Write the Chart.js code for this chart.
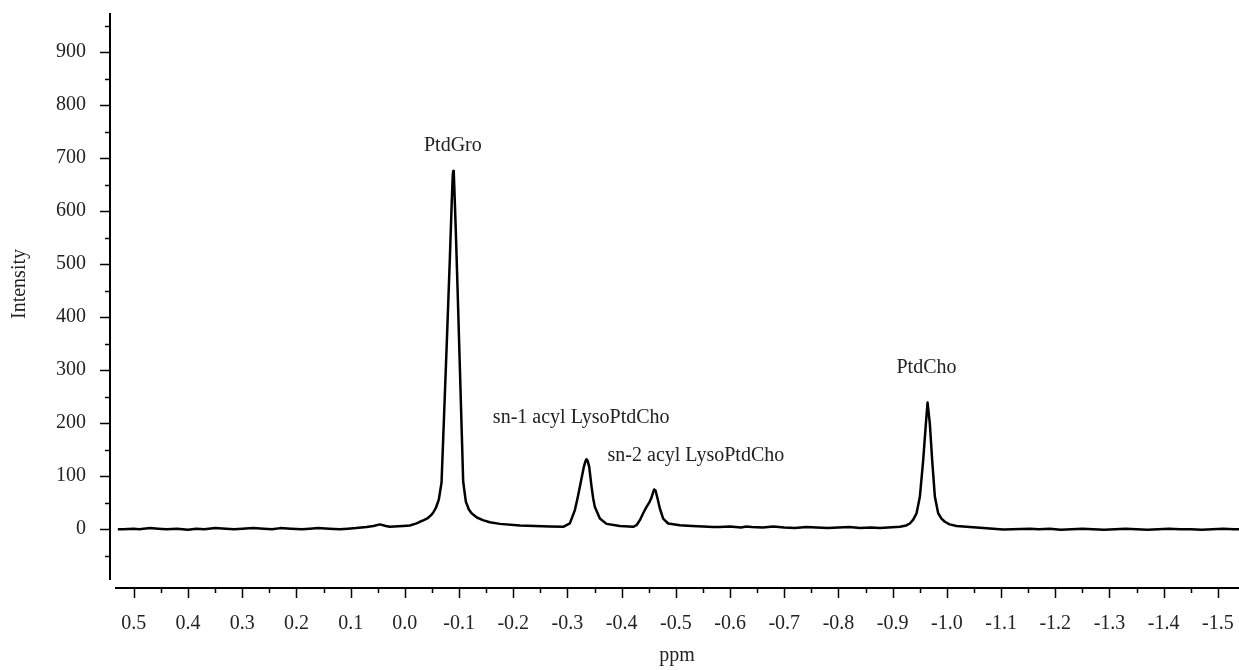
<!DOCTYPE html>
<html><head><meta charset="utf-8">
<script src="https://cdn.jsdelivr.net/npm/chart.js@4.4.1/dist/chart.umd.min.js"></script>
<style>html,body{margin:0;padding:0;background:#fff;} canvas{display:block;}</style>
</head><body>
<canvas id="c" width="1239" height="670"></canvas>
<script>
// Chemical shift (ppm) and intensity
const ppm = [
  0.5295, 0.52, 0.50, 0.49, 0.47, 0.455, 0.44, 0.42, 0.40, 0.385, 0.37, 0.35, 0.33, 0.315, 0.30,
  0.28, 0.26, 0.245, 0.23, 0.21, 0.19, 0.175, 0.16, 0.14, 0.12, 0.105, 0.09, 0.0707, 0.058, 0.0461,
  0.035, 0.0277, 0.0037, -0.0092, -0.0216, -0.0277, -0.035, -0.0424, -0.048, -0.0522, -0.0572,
  -0.0627, -0.0677, -0.072, -0.0775, -0.083, -0.0866, -0.0884, -0.0893, -0.0903, -0.0921, -0.0941,
  -0.0978, -0.1015, -0.1052, -0.1076, -0.1125, -0.1181, -0.1231, -0.1328, -0.1439, -0.1568, -0.1753,
  -0.2122, -0.2675, -0.2921, -0.3044, -0.3137, -0.3185, -0.3229, -0.3303, -0.3335, -0.3352, -0.3372,
  -0.3401, -0.3445, -0.3475, -0.3506, -0.3598, -0.3721, -0.3967, -0.4212, -0.4274, -0.4336, -0.4397,
  -0.4459, -0.4508, -0.4552, -0.4582, -0.46, -0.4625, -0.4662, -0.4705, -0.4766, -0.4858, -0.5074,
  -0.53, -0.55, -0.5689, -0.58, -0.60, -0.62, -0.6304,
  -0.64, -0.66, -0.68, -0.70, -0.72, -0.74, -0.76, -0.78, -0.80, -0.82, -0.84, -0.86, -0.8764,
  -0.9133, -0.925, -0.9317, -0.938, -0.9441, -0.9502, -0.9563, -0.9613, -0.9644, -0.9686, -0.9729,
  -0.9779, -0.984, -0.99, -0.9963, -1.005, -1.0179, -1.0609, -1.1039, -1.1531, -1.17, -1.19, -1.21,
  -1.23, -1.25, -1.27, -1.29, -1.31, -1.33, -1.35, -1.37, -1.39, -1.41, -1.43, -1.45, -1.47, -1.49,
  -1.51, -1.53, -1.539
];
const intensity = [
  0, 0, 1, 0, 2, 1, 0, 1, -1, 1, 0, 2, 1, 0, 1,
  2, 1, 0, 2, 1, 0, 1, 2, 1, 0, 1, 2, 4, 6, 9,
  6, 4.5, 6, 7, 11, 14, 17, 21, 26, 31, 40,
  56, 88, 205, 355, 510, 620, 668, 676, 672, 620, 560,
  435, 305, 175, 90, 52, 37, 30, 22, 17, 13, 10,
  7, 5, 4.5, 11, 36, 58, 80, 118, 129, 132, 129,
  118, 80, 58, 42, 20, 10, 6, 4.5, 7.5, 17, 30,
  42, 50, 60, 70, 75, 73, 58, 39, 20, 10.7, 7.5,
  6, 5, 4, 4, 5, 3, 5,
  4, 3, 5, 3, 2, 4, 3, 2, 3, 4, 2, 3, 2,
  4.4, 7, 10.7, 18, 30, 61, 130, 199, 239, 199, 130,
  61, 30, 20, 14, 9, 6, 2.5, -0.6, 1, 0, 1, -1,
  0, 1, 0, -1, 0, 1, 0, -1, 0, 1, 0, 0, -1, 0,
  1, 0, 0
];
const xTickValues = [0.5, 0.4, 0.3, 0.2, 0.1, 0.0, -0.1, -0.2, -0.3, -0.4, -0.5, -0.6, -0.7, -0.8, -0.9, -1.0, -1.1, -1.2, -1.3, -1.4, -1.5];
const yTickValues = [0, 100, 200, 300, 400, 500, 600, 700, 800, 900];
const xRange = [0.544, -1.539];
const yRange = [-111, 974];
const peakLabels = ['PtdGro', 'sn-1 acyl LysoPtdCho', 'sn-2 acyl LysoPtdCho', 'PtdCho'];
const peakLabelPpm = [-0.0886, -0.1624, -0.374, -0.9624];
const peakLabelIntensity = [714, 201, 128, 295];
const peakLabelAlign = ['center', 'left', 'left', 'center'];
const xTitle = 'ppm';
const yTitle = 'Intensity';

const FONT = "'Liberation Serif', 'Times New Roman', serif";
const TEXT = '#222';

const axesPlugin = {
  id: 'nmrAxes',
  afterDraw(chart) {
    const ctx = chart.ctx, xs = chart.scales.x, ys = chart.scales.y, ca = chart.chartArea;
    ctx.save();
    ctx.strokeStyle = '#000';
    ctx.lineWidth = 2;
    ctx.beginPath();
    ctx.moveTo(ca.left, ca.top);
    ctx.lineTo(ca.left, ca.bottom - 8);
    ctx.stroke();
    ctx.beginPath();
    ctx.moveTo(ca.left + 5, ca.bottom);
    ctx.lineTo(ca.right, ca.bottom);
    ctx.stroke();
    ctx.lineWidth = 1.5;
    const yMinor = [-50].concat(yTickValues.map(v => v + 50));
    yTickValues.forEach(v => {
      const p = Math.round(ys.getPixelForValue(v)) + 0.5;
      ctx.beginPath(); ctx.moveTo(ca.left - 10, p); ctx.lineTo(ca.left, p); ctx.stroke();
    });
    yMinor.forEach(v => {
      const p = Math.round(ys.getPixelForValue(v)) + 0.5;
      if (p < ca.top || p > ca.bottom - 8) return;
      ctx.beginPath(); ctx.moveTo(ca.left - 5, p); ctx.lineTo(ca.left, p); ctx.stroke();
    });
    const xMinor = xTickValues.slice(0, -1).map(v => v - 0.05);
    xTickValues.forEach(v => {
      const p = Math.round(xs.getPixelForValue(v)) + 0.5;
      ctx.beginPath(); ctx.moveTo(p, ca.bottom); ctx.lineTo(p, ca.bottom + 10); ctx.stroke();
    });
    xMinor.forEach(v => {
      const p = Math.round(xs.getPixelForValue(v)) + 0.5;
      ctx.beginPath(); ctx.moveTo(p, ca.bottom); ctx.lineTo(p, ca.bottom + 5); ctx.stroke();
    });
    ctx.fillStyle = TEXT;
    ctx.font = '20px ' + FONT;
    ctx.textBaseline = 'alphabetic';
    peakLabels.forEach((t, i) => {
      ctx.textAlign = peakLabelAlign[i];
      ctx.fillText(t, xs.getPixelForValue(peakLabelPpm[i]), ys.getPixelForValue(peakLabelIntensity[i]));
    });
    ctx.textAlign = 'center';
    ctx.fillText(xTitle, 677, 661);
    ctx.save();
    ctx.translate(25, 284);
    ctx.rotate(-Math.PI / 2);
    ctx.fillText(yTitle, 0, 0);
    ctx.restore();
    ctx.restore();
  }
};

function zeroPad(s) { s.paddingLeft = 0; s.paddingRight = 0; s.paddingTop = 0; s.paddingBottom = 0; }

new Chart(document.getElementById('c'), {
  type: 'scatter',
  data: {
    datasets: [{
      data: ppm.map((x, i) => ({ x: x, y: intensity[i] })),
      showLine: true,
      borderColor: '#000',
      borderWidth: 2.5,
      borderJoinStyle: 'round',
      pointRadius: 0,
      tension: 0,
      fill: false
    }]
  },
  options: {
    responsive: false,
    animation: false,
    devicePixelRatio: 1,
    layout: { padding: { top: 13, right: 0, left: 0, bottom: 0 } },
    plugins: { legend: { display: false }, tooltip: { enabled: false } },
    scales: {
      x: {
        type: 'linear', reverse: true, min: xRange[1], max: xRange[0],
        afterFit(s) { s.height = 82; zeroPad(s); },
        afterBuildTicks(s) { s.ticks = xTickValues.map(v => ({ value: v })); },
        border: { display: false },
        grid: { display: false, drawTicks: false },
        ticks: { padding: 24, autoSkip: false, maxRotation: 0, color: TEXT, font: { family: FONT, size: 20 },
          callback: v => Number(v).toFixed(1) }
      },
      y: {
        type: 'linear', min: yRange[0], max: yRange[1],
        afterFit(s) { s.width = 110; zeroPad(s); },
        afterBuildTicks(s) { s.ticks = yTickValues.map(v => ({ value: v })); },
        border: { display: false },
        grid: { display: false, drawTicks: false },
        ticks: { padding: 24, autoSkip: false, color: TEXT, font: { family: FONT, size: 20 },
          callback: v => String(v) }
      }
    }
  },
  plugins: [axesPlugin]
});
</script>
</body></html>
